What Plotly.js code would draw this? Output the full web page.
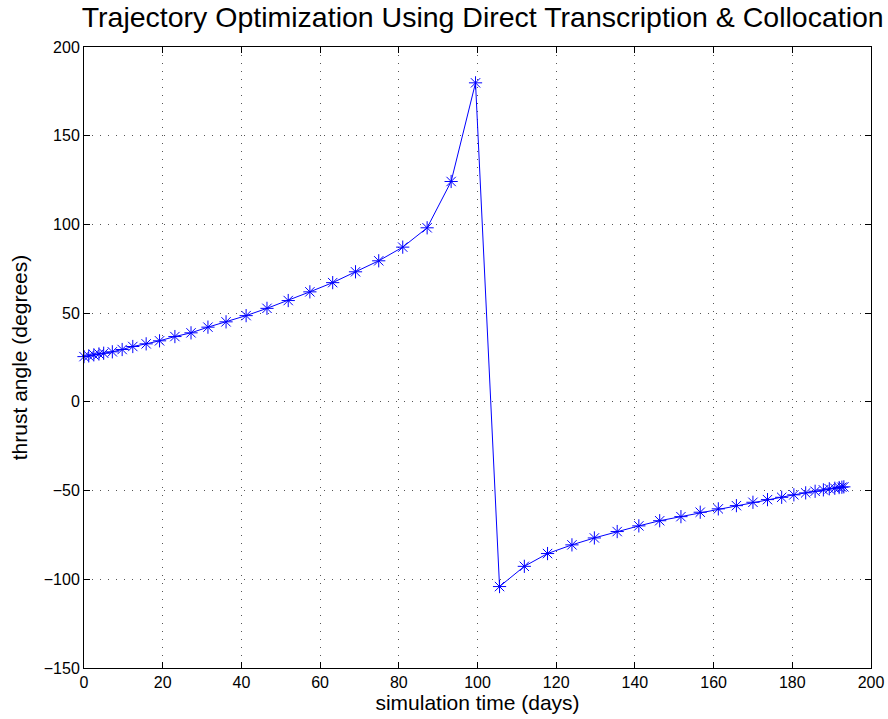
<!DOCTYPE html>
<html>
<head>
<meta charset="utf-8">
<script src="https://cdn.plot.ly/plotly-3.0.1.min.js"></script>
<style>html,body{margin:0;padding:0;background:#fff;}#chart{width:888px;height:719px;}</style>
</head>
<body>
<div id="chart"></div>
<script>
const timeDays = [0, 1.2, 2.5, 3.8, 5.0, 7.2, 9.7, 12.4, 15.8, 19.2, 23.1, 27.2, 31.5, 36.1, 41.2, 46.5, 51.9, 57.4, 63.2, 69.0, 74.9, 81.0, 87.2, 93.3, 99.5, 105.6, 111.9, 117.8, 124.0, 129.7, 135.5, 141.0, 146.3, 151.7, 156.6, 161.2, 165.8, 170.0, 173.7, 177.3, 180.4, 183.4, 185.8, 187.9, 189.4, 190.8, 191.9, 192.6, 193.1];
const thrustAngle = [25.5, 25.9, 26.5, 27.0, 27.4, 28.2, 29.5, 31.2, 32.7, 34.4, 36.8, 38.9, 42.1, 45.1, 48.6, 52.7, 57.1, 62.0, 67.2, 73.3, 79.5, 87.2, 98.1, 124.2, 179.8, -104.1, -92.7, -85.5, -80.6, -76.7, -73.1, -69.9, -67.0, -64.7, -62.2, -60.3, -58.5, -56.6, -55.1, -53.8, -52.4, -51.3, -50.4, -49.6, -49.0, -48.7, -48.3, -48.1, -47.9];
const xTicks = [0, 20, 40, 60, 80, 100, 120, 140, 160, 180, 200];
const yTicks = [-150, -100, -50, 0, 50, 100, 150, 200];

const fontFam = '"Liberation Sans", Arial, Helvetica, sans-serif';
const axisCommon = {
  showline: true, linecolor: '#000', linewidth: 1, mirror: 'ticks',
  ticks: 'inside', ticklen: 6, tickcolor: '#000', tickwidth: 1,
  showgrid: true, gridcolor: '#555', gridwidth: 1, griddash: '1px,7px',
  zeroline: false, tickfont: {family: fontFam, size: 16, color: '#000'},
  tickmode: 'array', automargin: false
};
const trace = {
  x: timeDays, y: thrustAngle, type: 'scatter', mode: 'lines+markers',
  line: {color: '#0000ff', width: 1},
  marker: {symbol: 'asterisk-open', size: 11, color: '#0000ff', line: {color: '#0000ff', width: 1}},
  cliponaxis: false
};
const layout = {
  width: 888, height: 719,
  margin: {l: 84, r: 17, t: 47, b: 51},
  paper_bgcolor: '#fff', plot_bgcolor: '#fff',
  showlegend: false,
  title: {text: 'Trajectory Optimization Using Direct Transcription &amp; Collocation', font: {family: fontFam, size: 28.5, color: '#000'}, x: 0.5436, xanchor: 'center', y: 0.99, yanchor: 'top'},
  xaxis: Object.assign({}, axisCommon, {range: [0, 200], tickvals: xTicks, ticktext: xTicks.map(String),
    title: {text: 'simulation time (days)', font: {family: fontFam, size: 21, color: '#000'}, standoff: 2}}),
  yaxis: Object.assign({}, axisCommon, {range: [-150, 200], tickvals: yTicks, ticktext: yTicks.map(v => v < 0 ? '\u2212' + Math.abs(v) : String(v)),
    title: {text: 'thrust angle (degrees)', font: {family: fontFam, size: 21, color: '#000'}, standoff: 10}})
};
Plotly.newPlot('chart', [trace], layout, {displayModeBar: false, staticPlot: true});
</script>
</body>
</html>
